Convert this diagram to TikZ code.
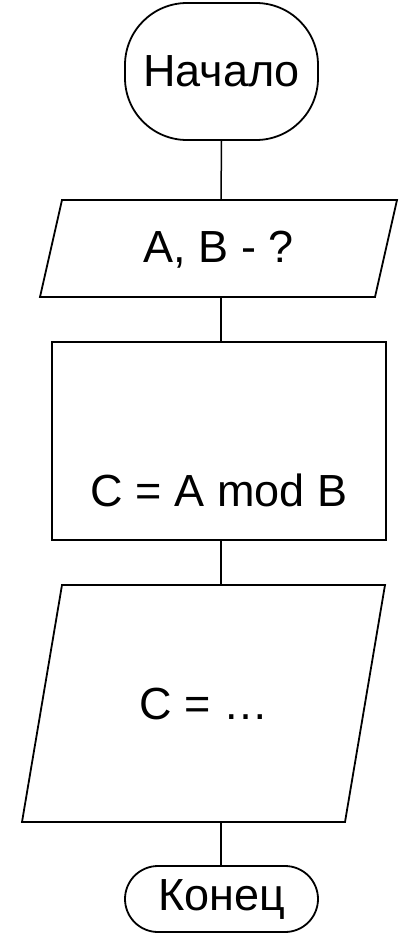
\documentclass[tikz,border=0pt]{standalone}
\usepackage{fontspec}
\setmainfont{Liberation Sans}
\begin{document}
\begin{tikzpicture}[x=1pt,y=-1pt,
  shapeline/.style={draw=black, line width=1.8pt, line join=miter},
  link/.style={draw=black, line width=1.5pt},
  terminal/.style={shapeline, inner sep=0pt},
  label/.style={inner sep=0pt, font=\fontsize{45}{50}\selectfont}]
\useasboundingbox (0,0) rectangle (406,937);
\fill[white] (0,0) rectangle (406,937);

% start terminal
\node[terminal, rounded corners=62pt, minimum width=193pt, minimum height=137pt, label] (t1) at (221.5,71.5) {Начало};

% input: A, B
\coordinate (p1top) at (221,200);
\coordinate (p1bot) at (221,297);
\draw[shapeline] (62,200) -- (397,200) -- (375,297) -- (40,297) -- cycle;
\node[label] (p1) at (219,250) {A, B - ?};

% process block
\node[shapeline, minimum width=334pt, minimum height=198pt, inner sep=0pt] (r1) at (219,441) {};
\node[label, anchor=base] (r1text) at (219,506) {C = A mod B};

% output: C
\coordinate (p2top) at (221,585);
\coordinate (p2bot) at (221,822);
\draw[shapeline] (62,585) -- (385,585) -- (345,822) -- (22,822) -- cycle;
\node[label] (p2) at (204,704) {C = …};

% end terminal
\node[terminal, minimum width=193pt, minimum height=66pt, rounded corners=33pt, label] (t2) at (221.5,899) {Конец};

% connectors
\draw[link] (t1.south) -- (p1top);
\draw[link] (p1bot) -- (r1.north -| p1bot);
\draw[link] (r1.south -| p2top) -- (p2top);
\draw[link] (p2bot) -- (t2.north -| p2bot);
\end{tikzpicture}
\end{document}
